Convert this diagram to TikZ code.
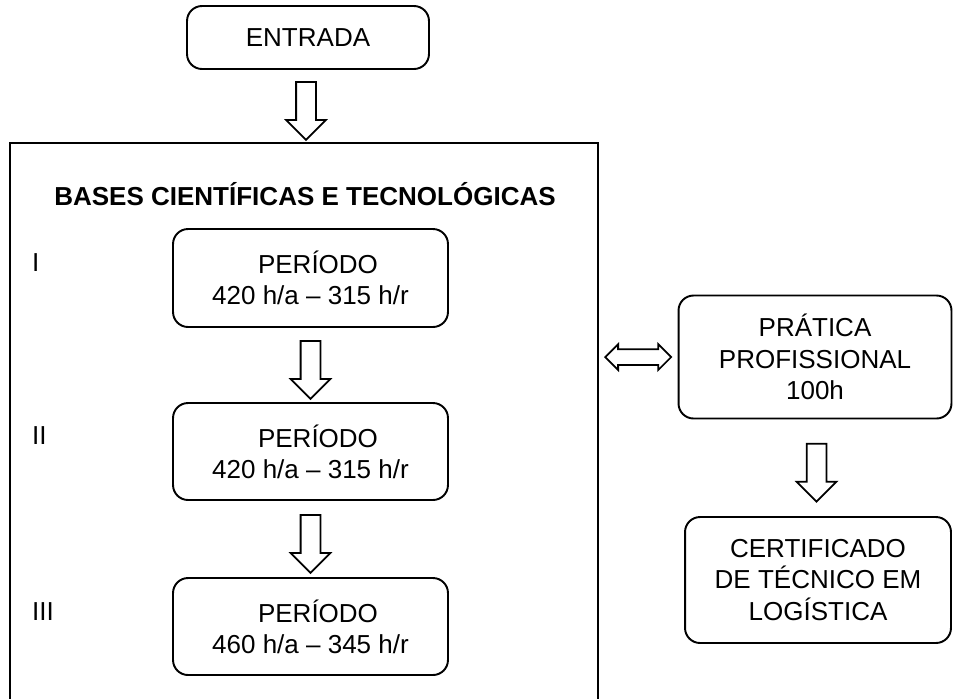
\documentclass[tikz,border=0pt]{standalone}
\usepackage{fontspec}
\setmainfont{Liberation Sans}
\usetikzlibrary{shapes.arrows,calc}

\begin{document}
\begin{tikzpicture}[x=0.02cm, y=-0.02cm,
			every node/.style={font=\fontsize{14.8}{17.8}\selectfont},
			caixa/.style={draw, rounded corners=0.3cm, line width=1.1pt, align=center, inner sep=0pt},
			titulo/.style={font=\fontsize{14.8}{17.8}\selectfont\bfseries},
			seta/.style={single arrow, draw, line width=1pt, rotate=-90, minimum height=1.16cm, inner sep=0.18cm, single arrow head extend=0.2cm},
			setadupla/.style={double arrow, draw, line width=1pt, minimum height=1.32cm, inner sep=0.14cm, double arrow head extend=0.1cm},
		]
		\useasboundingbox (0,0) rectangle (953,698);

		\node[caixa, minimum width=4.84cm, minimum height=1.26cm] (entrada) at (308,37.5) {ENTRADA};
		\node[draw, line width=1.1pt, minimum width=11.76cm, minimum height=11.6cm, inner sep=0pt] (bases) at (304,433) {};
		\node[titulo] (tit) at (305,194) {BASES CIENTÍFICAS E TECNOLÓGICAS};

		\node[caixa, minimum width=5.5cm, minimum height=1.96cm] (p1) at (310.5,278) {\hspace*{0.3cm}PERÍODO\\420 h/a – 315 h/r};
		\node[caixa, minimum width=5.5cm, minimum height=1.94cm] (p2) at (310.5,451.5) {\hspace*{0.3cm}PERÍODO\\420 h/a – 315 h/r};
		\node[caixa, minimum width=5.5cm, minimum height=1.94cm] (p3) at (310.5,626.5) {\hspace*{0.3cm}PERÍODO\\460 h/a – 345 h/r};

		\node[anchor=west] (r1) at (26,263) {I};
		\node[anchor=west] (r2) at (26,436) {II};
		\node[anchor=west] (r3) at (26,612) {III};

		\node[caixa, minimum width=5.46cm, minimum height=2.46cm] (pratica) at (815,357) {PRÁTICA\\PROFISSIONAL\\100h};
		\node[caixa, minimum width=5.32cm, minimum height=2.52cm] (certificado) at (818,580) {CERTIFICADO\\DE TÉCNICO EM\\LOGÍSTICA};

		\node[seta] (s0) at ($(entrada.south)!0.5!(bases.north)$) {};
		\node[seta] (s1) at ($(p1.south)!0.5!(p2.north)$) {};
		\node[seta] (s2) at ($(p2.south)!0.5!(p3.north)$) {};
		\node[seta] (s3) at ($(pratica.south)!0.5!(certificado.north)$) {};
		\node[setadupla] (d1) at ($(bases.east |- pratica.west)!0.5!(pratica.west)$) {};

		\end{tikzpicture}
\end{document}
